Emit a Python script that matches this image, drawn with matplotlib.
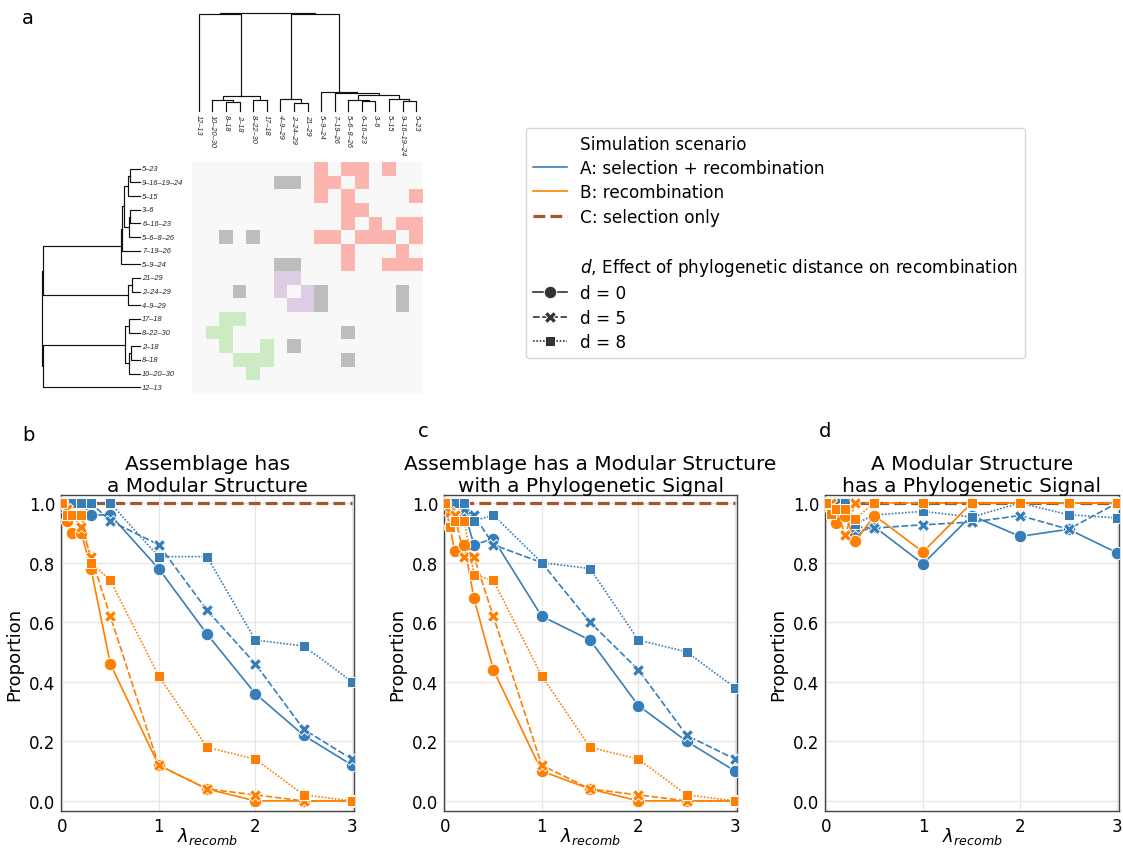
import matplotlib
matplotlib.use("Agg")
import matplotlib.pyplot as plt
from matplotlib.colors import ListedColormap
from matplotlib.lines import Line2D
import numpy as np

W, H = 1123, 854

# ---- panel a: modules of the assemblage ----
leaves = ["12–13", "10–20–30", "8–18", "2–18", "8–22–30", "17–18", "4–9–29",
          "2–24–29", "21–29", "5–9–24", "7–19–26", "5–6–8–26", "6–16–23", "3–6",
          "5–15", "9–16–19–24", "5–23"]

# (child a, child b, height), new node ids start at len(leaves)
merges = [(2, 3, 0.093), (1, 17, 0.117), (4, 5, 0.117), (18, 19, 0.157),
          (7, 8, 0.077), (6, 21, 0.127), (12, 13, 0.107), (11, 23, 0.110),
          (15, 16, 0.100), (14, 25, 0.127), (24, 26, 0.160), (10, 27, 0.183),
          (9, 28, 0.190), (0, 20, 0.993), (22, 29, 0.993), (30, 31, 1.0)]

# rows top->bottom (5-23 ... 12-13), cols left->right in leaf order
# . empty, g grey, p pink, v violet, n green
heat_rows = [".........p.pp.p..",
             "......gg.pp.p....",
             ".........p.p....p",
             "...........pp....",
             "...........p.p.pp",
             "..g.g....pp.ppp.p",
             "...........p...p.",
             "......gg...p..ppp",
             "......vv.........",
             "...g..v.vg.....g.",
             ".......vvg.....g.",
             "..nn.............",
             ".nn........g.....",
             "..n..n.g.........",
             "...nnn.....g.....",
             "....n............",
             "................."]
heat_codes = ".gpvn"
heat_colors = ["#f8f8f8", "#bdbdbd", "#fbb4ae", "#decbe4", "#ccebc5"]

# ---- panels b-d ----
lam = [0, 0.05, 0.1, 0.2, 0.3, 0.5, 1, 1.5, 2, 2.5, 3]
sel_only = [1.0, 1.0, 1.0, 1.0, 1.0, 1.0, 1.0, 1.0, 1.0, 1.0, 1.0]

b_A = {0: [1.0, 1.0, 1.0, 1.0, 0.96, 0.96, 0.78, 0.56, 0.36, 0.22, 0.12],
       5: [1.0, 1.0, 1.0, 1.0, 1.0, 0.94, 0.86, 0.64, 0.46, 0.24, 0.14],
       8: [1.0, 1.0, 1.0, 1.0, 1.0, 1.0, 0.82, 0.82, 0.54, 0.52, 0.40]}
b_B = {0: [1.0, 0.94, 0.90, 0.90, 0.78, 0.46, 0.12, 0.04, 0.0, 0.0, 0.0],
       5: [1.0, 0.98, 0.96, 0.92, 0.82, 0.62, 0.12, 0.04, 0.02, 0.0, 0.0],
       8: [1.0, 0.96, 0.96, 0.96, 0.80, 0.74, 0.42, 0.18, 0.14, 0.02, 0.0]}

c_A = {0: [1.0, 1.0, 1.0, 0.97, 0.86, 0.88, 0.62, 0.54, 0.32, 0.20, 0.10],
       5: [1.0, 1.0, 1.0, 0.98, 0.96, 0.86, 0.80, 0.60, 0.44, 0.22, 0.14],
       8: [1.0, 1.0, 1.0, 1.0, 0.94, 0.96, 0.80, 0.78, 0.54, 0.50, 0.38]}
c_B = {0: [1.0, 0.92, 0.84, 0.86, 0.68, 0.44, 0.10, 0.04, 0.0, 0.0, 0.0],
       5: [1.0, 0.97, 0.96, 0.82, 0.82, 0.62, 0.12, 0.04, 0.02, 0.0, 0.0],
       8: [1.0, 0.92, 0.94, 0.94, 0.76, 0.74, 0.42, 0.18, 0.14, 0.02, 0.0]}

d_A = {0: [1.0, 1.0, 1.0, 1.0, 0.90, 0.92, 0.796, 0.958, 0.888, 0.912, 0.833],
       5: [1.0, 1.0, 1.0, 1.0, 0.92, 0.916, 0.927, 0.936, 0.958, 0.912, 1.0],
       8: [1.0, 0.98, 1.0, 1.0, 0.93, 0.96, 0.972, 0.953, 1.0, 0.961, 0.95]}
d_B = {0: [1.0, 0.98, 0.933, 0.958, 0.871, 0.958, 0.836, 1.0, 1.0, 1.0, 1.0],
       5: [1.0, 1.0, 0.98, 0.894, 1.0, 1.0, 1.0, 1.0, 1.0, 1.0, 1.0],
       8: [1.0, 0.963, 0.98, 0.98, 0.947, 1.0, 1.0, 1.0, 1.0, 1.0, 1.0]}

titles = ["Assemblage has\na Modular Structure",
          "Assemblage has a Modular Structure\nwith a Phylogenetic Signal",
          "A Modular Structure\nhas a Phylogenetic Signal"]

col_A = "#377eb8"
col_B = "#ff7f00"
col_C = "#a65628"
d_styles = {0: ("-", "o", 9.0), 5: ((0, (4, 1.5)), "X", 9.0), 8: ((0, (1, 1)), (4, 0, 45), 9.5)}


def px_axes(fig, l, t, r, b):
    return fig.add_axes([l / W, 1 - b / H, (r - l) / W, (b - t) / H])


def dendro_segments():
    n = len(leaves)
    pos = {i: float(i) for i in range(n)}
    hgt = {i: 0.0 for i in range(n)}
    segs = []
    for k, (a, b, h) in enumerate(merges):
        segs.append(([pos[a], pos[a], pos[b], pos[b]], [hgt[a], h, h, hgt[b]]))
        pos[n + k] = (pos[a] + pos[b]) / 2
        hgt[n + k] = h
    return segs


fig = plt.figure(figsize=(W / 100, H / 100), dpi=100)
n = len(leaves)

# heatmap
ax_h = px_axes(fig, 192, 163, 423, 395)
mat = np.array([[heat_codes.index(ch) for ch in row] for row in heat_rows])
ax_h.imshow(mat, cmap=ListedColormap(heat_colors), vmin=-0.5, vmax=4.5,
            aspect="auto", interpolation="nearest")
ax_h.axis("off")

lab_font = dict(fontsize=5.3, style="italic", family="Liberation Sans", color="#222222")

ax_t = px_axes(fig, 192, 14, 423, 112)
ax_l = px_axes(fig, 42, 163, 140, 395)
for xs, ys in dendro_segments():
    ax_t.plot(xs, ys, color="#111111", lw=0.85, clip_on=False)
    ax_l.plot(ys, [n - 1 - x for x in xs], color="#111111", lw=0.85, clip_on=False)
ax_t.set_xlim(-0.5, n - 0.5)
ax_t.set_ylim(0, 1)
ax_l.set_xlim(1, 0)
ax_l.set_ylim(n - 0.5, -0.5)
for i, name in enumerate(leaves):
    ax_t.annotate(name, xy=(i, 0), xytext=(0, -2.5), textcoords="offset points",
                  rotation=270, ha="center", va="top", annotation_clip=False, **lab_font)
    ax_l.annotate(name, xy=(0, n - 1 - i), xytext=(1.5, 0), textcoords="offset points",
                  ha="left", va="center", annotation_clip=False, **lab_font)
ax_t.axis("off")
ax_l.axis("off")

# line panels
panels = [(61, 354, b_A, b_B), (444, 737, c_A, c_B), (825, 1119, d_A, d_B)]
for (l, r, A, B), title in zip(panels, titles):
    ax = px_axes(fig, l, 496, r, 812)
    ax.plot(lam, sel_only, color=col_C, lw=2.3, ls="--", zorder=2)
    for vals, col in [(A, col_A), (B, col_B)]:
        for d in [0, 5, 8]:
            ls, mk, ms = d_styles[d]
            ax.plot(lam, vals[d], color=col, ls=ls, lw=1.2, marker=mk, markersize=ms,
                    markeredgecolor="white", markeredgewidth=0.7, zorder=3)
    ax.set_xlim(-0.01, 3.02)
    ax.set_ylim(-0.034, 1.027)
    ax.set_xticks([0, 1, 2, 3])
    ax.set_yticks([0, 0.2, 0.4, 0.6, 0.8, 1.0])
    ax.grid(True, color="#e6e6e6", lw=0.9)
    ax.set_axisbelow(True)
    ax.tick_params(length=0, pad=4, labelsize=12)
    for sp in ax.spines.values():
        sp.set_color("#444444")
        sp.set_linewidth(1.0)
    ax.set_title(title, fontsize=14.5, pad=3)
    ax.set_ylabel("Proportion", fontsize=13)
    ax.set_xlabel(r"$\lambda_{recomb}$", fontsize=13, labelpad=-7)

for letter, x, y in [("a", 22, 24), ("b", 22, 441), ("c", 418, 437), ("d", 819, 437)]:
    fig.text(x / W, 1 - y / H, letter, fontsize=14, va="baseline", ha="left")

# legend
blank = Line2D([], [], color="none")
handles = [blank,
           Line2D([], [], color=col_A, lw=1.2),
           Line2D([], [], color=col_B, lw=1.2),
           Line2D([], [], color=col_C, lw=2.3, ls="--"),
           blank, blank]
labels = ["Simulation scenario", "A: selection + recombination", "B: recombination",
          "C: selection only", " ", "$d$, Effect of phylogenetic distance on recombination"]
for d in [0, 5, 8]:
    ls, mk, ms = d_styles[d]
    handles.append(Line2D([], [], color="#333333", ls=ls, lw=1.2, marker=mk, markersize=ms,
                          markeredgecolor="white", markeredgewidth=0.7))
    labels.append("d = %d" % d)
fig.legend(handles, labels, loc="upper left", bbox_to_anchor=(526 / W, 1 - 129 / H),
           borderaxespad=0, fontsize=12.2, frameon=True, labelspacing=0.37)

fig.savefig("out.png", dpi=100)
